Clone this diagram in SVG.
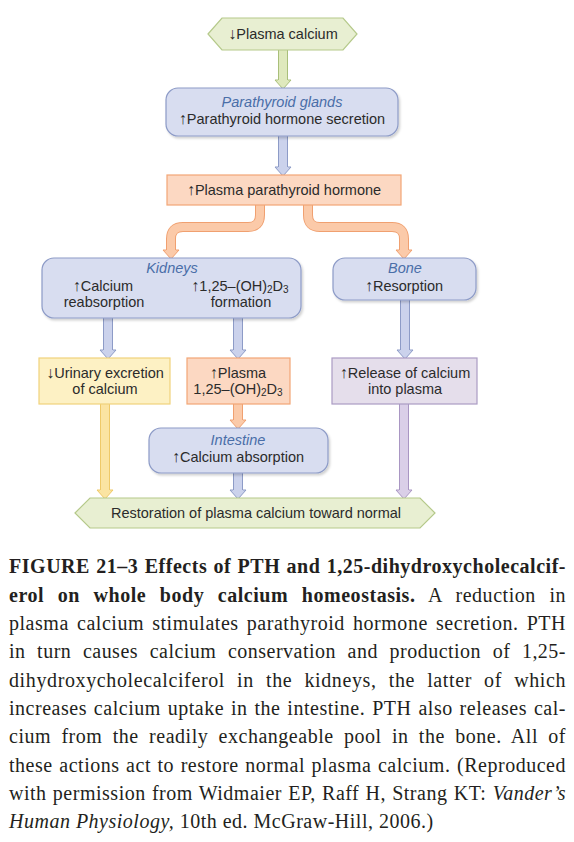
<svg xmlns="http://www.w3.org/2000/svg" width="574" height="842" viewBox="0 0 574 842">
<style>
.t{font-family:"Liberation Sans",Arial,sans-serif;font-size:14.5px;fill:#2b2b2b;text-anchor:middle}
.it{font-style:italic;fill:#4a6ea8}
.sub{font-size:10px}
.ar{font-size:16px}
.blue{fill:#d8ddf0;stroke:#8d9bc7;stroke-width:1.2}
.green{fill:#e8efd2;stroke:#b5c98a;stroke-width:1.2}
.peach{fill:#fcd8c2;stroke:#f2a676;stroke-width:1.2}
.yellow{fill:#fdf1c4;stroke:#f1d27c;stroke-width:1.2}
.lav{fill:#e5deeb;stroke:#ab9bc4;stroke-width:1.2}
.so{fill:none;stroke-width:10}
.si{fill:none;stroke-width:8}
.hd{stroke-width:1}
.cg .so,.cg .hd{stroke:#a9bf7a}.cg .si{stroke:#dfe9bd}.cg .hd{fill:#dfe9bd}
.cb .so,.cb .hd{stroke:#8d9bc7}.cb .si{stroke:#cbd2ec}.cb .hd{fill:#cbd2ec}
.cp .so,.cp .hd{stroke:#f0a070}.cp .si{stroke:#fbcaa9}.cp .hd{fill:#fbcaa9}
.cy .so,.cy .hd{stroke:#efc968}.cy .si{stroke:#fbe4a2}.cy .hd{fill:#fbe4a2}
.cl .so,.cl .hd{stroke:#a996c3}.cl .si{stroke:#dacfe8}.cl .hd{fill:#dacfe8}
.cap{font-family:"Liberation Serif","Times New Roman",serif;font-size:20px;fill:#231f20;letter-spacing:0.5px}
.b{font-weight:bold}
.i{font-style:italic}
</style>
<defs>
<filter id="sh" x="-10%" y="-10%" width="130%" height="140%">
<feDropShadow dx="1.5" dy="2" stdDeviation="1.2" flood-color="#000" flood-opacity="0.18"/>
</filter>
</defs>
<rect width="574" height="842" fill="#ffffff"/>

<g id="connectors">
<g class="cg"><path class="so" d="M283,48V81"/><path class="si" d="M283,48V81"/><path class="hd" d="M278,80H275L283,89L291,80H288"/></g>
<g class="cb"><path class="so" d="M283,134V168"/><path class="si" d="M283,134V168"/><path class="hd" d="M278,167H275L283,176L291,167H288"/></g>
<g class="cp"><path class="so" d="M260,203V215Q260,227 248,227H183Q171,227 171,239V251"/><path class="si" d="M260,203V215Q260,227 248,227H183Q171,227 171,239V251"/><path class="hd" d="M166,250H163L171,259L179,250H176"/></g>
<g class="cp"><path class="so" d="M308,203V215Q308,227 320,227H392Q404,227 404,239V251"/><path class="si" d="M308,203V215Q308,227 320,227H392Q404,227 404,239V251"/><path class="hd" d="M399,250H396L404,259L412,250H409"/></g>
<g class="cb"><path class="so" d="M108,316V351"/><path class="si" d="M108,316V351"/><path class="hd" d="M103,350H100L108,359L116,350H113"/></g>
<g class="cb"><path class="so" d="M238,316V351"/><path class="si" d="M238,316V351"/><path class="hd" d="M233,350H230L238,359L246,350H243"/></g>
<g class="cb"><path class="so" d="M405,298V351"/><path class="si" d="M405,298V351"/><path class="hd" d="M400,350H397L405,359L413,350H410"/></g>
<g class="cp"><path class="so" d="M238,403V421"/><path class="si" d="M238,403V421"/><path class="hd" d="M233,420H230L238,429L246,420H243"/></g>
<g class="cy"><path class="so" d="M105,403V491"/><path class="si" d="M105,403V491"/><path class="hd" d="M100,490H97L105,499L113,490H110"/></g>
<g class="cb"><path class="so" d="M238,472V491"/><path class="si" d="M238,472V491"/><path class="hd" d="M233,490H230L238,499L246,490H243"/></g>
<g class="cl"><path class="so" d="M404,403V491"/><path class="si" d="M404,403V491"/><path class="hd" d="M399,490H396L404,499L412,490H409"/></g>
</g>

<g id="plasma-calcium">
<polygon class="green" points="208,34 222,18 343,18 357,34 343,50 222,50"/>
<text class="t" x="283" y="39"><tspan class="ar">↓</tspan>Plasma calcium</text>
</g>

<g id="parathyroid">
<rect class="blue" filter="url(#sh)" x="166" y="88" width="232" height="48" rx="12"/>
<text class="t it" x="282" y="107">Parathyroid glands</text>
<text class="t" x="282" y="124"><tspan class="ar">↑</tspan>Parathyroid hormone secretion</text>
</g>

<g id="plasma-pth">
<rect class="peach" x="167" y="175" width="234" height="30"/>
<text class="t" x="284" y="195"><tspan class="ar">↑</tspan>Plasma parathyroid hormone</text>
</g>

<g id="kidneys">
<rect class="blue" filter="url(#sh)" x="42" y="258" width="259" height="60" rx="12"/>
<text class="t it" x="172" y="273">Kidneys</text>
<text class="t" x="103" y="291"><tspan class="ar">↑</tspan>Calcium</text>
<text class="t" x="104" y="307">reabsorption</text>
<text class="t" x="240" y="291"><tspan class="ar">↑</tspan>1,25–(OH)<tspan class="sub" dy="2">2</tspan><tspan dy="-2">D</tspan><tspan class="sub" dy="2">3</tspan></text>
<text class="t" x="241" y="307">formation</text>
</g>

<g id="bone">
<rect class="blue" filter="url(#sh)" x="333" y="258" width="143" height="42" rx="12"/>
<text class="t it" x="405" y="273">Bone</text>
<text class="t" x="404" y="291"><tspan class="ar">↑</tspan>Resorption</text>
</g>

<g id="urinary">
<rect class="yellow" x="39" y="358" width="131" height="46"/>
<text class="t" x="105" y="378"><tspan class="ar">↓</tspan>Urinary excretion</text>
<text class="t" x="105" y="394">of calcium</text>
</g>

<g id="plasma-d3">
<rect class="peach" x="187" y="358" width="103" height="46"/>
<text class="t" x="238" y="378"><tspan class="ar">↑</tspan>Plasma</text>
<text class="t" x="238" y="394">1,25–(OH)<tspan class="sub" dy="2">2</tspan><tspan dy="-2">D</tspan><tspan class="sub" dy="2">3</tspan></text>
</g>

<g id="release">
<rect class="lav" x="332" y="358" width="145" height="46"/>
<text class="t" x="405" y="378"><tspan class="ar">↑</tspan>Release of calcium</text>
<text class="t" x="405" y="394">into plasma</text>
</g>

<g id="intestine">
<rect class="blue" filter="url(#sh)" x="149" y="428" width="179" height="45" rx="12"/>
<text class="t it" x="238" y="445">Intestine</text>
<text class="t" x="238" y="462"><tspan class="ar">↑</tspan>Calcium absorption</text>
</g>

<g id="restoration">
<polygon class="green" points="75,513 90,498 420,498 435,513 420,528 90,528"/>
<text class="t" x="256" y="518">Restoration of plasma calcium toward normal</text>
</g>

<g id="caption">
<text class="cap b" x="9" y="573" word-spacing="0.8" textLength="557" lengthAdjust="spacing">FIGURE 21–3 Effects of PTH and 1,25-dihydroxycholecalcif-</text>
<text class="cap" x="9" y="602" word-spacing="8.1" textLength="557" lengthAdjust="spacing"><tspan class="b">erol on whole body calcium homeostasis.</tspan> A reduction in</text>
<text class="cap" x="9" y="630" word-spacing="2.6" textLength="557" lengthAdjust="spacing">plasma calcium stimulates parathyroid hormone secretion. PTH</text>
<text class="cap" x="9" y="658" word-spacing="6.1" textLength="557" lengthAdjust="spacing">in turn causes calcium conservation and production of 1,25-</text>
<text class="cap" x="9" y="687" word-spacing="6.5" textLength="557" lengthAdjust="spacing">dihydroxycholecalciferol in the kidneys, the latter of which</text>
<text class="cap" x="9" y="715" word-spacing="1.4" textLength="557" lengthAdjust="spacing">increases calcium uptake in the intestine. PTH also releases cal-</text>
<text class="cap" x="9" y="743" word-spacing="4.8" textLength="557" lengthAdjust="spacing">cium from the readily exchangeable pool in the bone. All of</text>
<text class="cap" x="9" y="772" word-spacing="1" textLength="557" lengthAdjust="spacing">these actions act to restore normal plasma calcium. (Reproduced</text>
<text class="cap" x="9" y="800" word-spacing="0.7" textLength="557" lengthAdjust="spacing">with permission from Widmaier EP, Raff H, Strang KT: <tspan class="i">Vander’s</tspan></text>
<text class="cap" x="9" y="828"><tspan class="i">Human Physiology,</tspan> 10th ed. McGraw-Hill, 2006.)</text>
</g>
</svg>
